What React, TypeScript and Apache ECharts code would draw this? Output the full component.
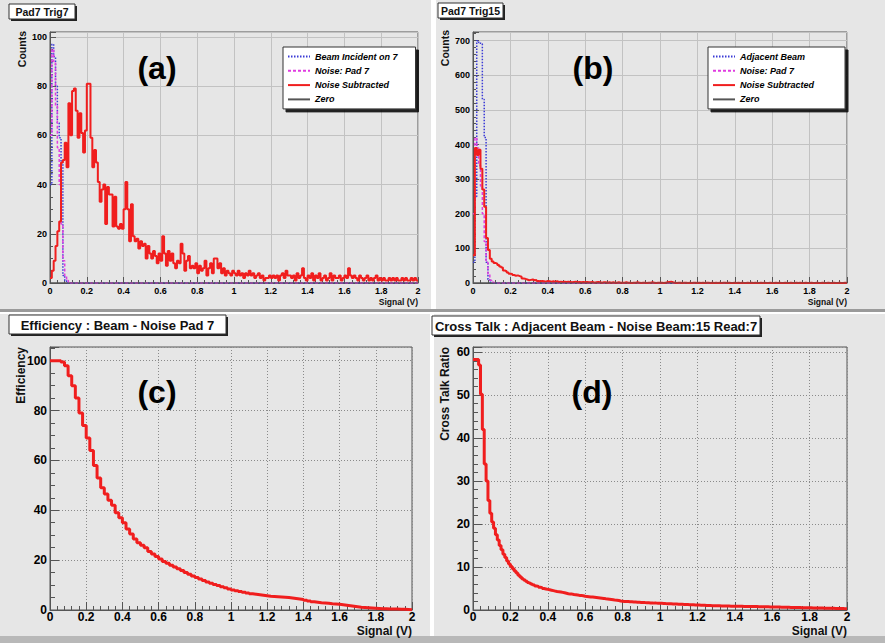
import React, { useEffect, useRef } from "react";
import * as echarts from "echarts";

const FONT = "'Liberation Sans', Arial, Helvetica, sans-serif";

// ---------- text ----------
const panelTitles = [
  "Pad7 Trig7",
  "Pad7 Trig15",
  "Efficiency : Beam - Noise Pad 7",
  "Cross Talk : Adjacent Beam - Noise Beam:15 Read:7",
];
const panelTags = ["(a)", "(b)", "(c)", "(d)"];
const yTitles = ["Counts", "Counts", "Efficiency", "Cross Talk Ratio"];
const xTitle = "Signal (V)";
const legendA = ["Beam Incident on 7", "Noise: Pad 7", "Noise Subtracted", "Zero"];
const legendB = ["Adjacent Beam", "Noise: Pad 7", "Noise Subtracted", "Zero"];

// ---------- axes ----------
const X_MIN = 0;
const X_MAX = 2;
const X_STEP = 0.2;
const yMax = [102, 725, 105.5, 61.2];
const yStep = [20, 100, 20, 10];

// ---------- bin widths ----------
const BW_FINE = 0.01; // panels (a), (b), (d)
const BW_EFF = 0.02; // panel (c)

// ---------- panel (a): Pad7 Trig7 ----------
const beamA = [40, 97, 92, 80, 65, 59, 49, 3, 1, 0];
const noiseA = [60, 95, 90, 72, 55, 40, 24, 9, 3, 1, 0];
const subA = [
  2, 5, 9, 15, 21, 25, 49, 50, 57, 47,
  73, 60, 78, 79, 70, 59, 69, 61, 53, 62,
  81, 81, 59, 47, 54, 49, 41, 33, 38, 40,
  24, 39, 36, 36, 23, 35, 23, 22, 24, 22,
  30, 41, 30, 17, 32, 19, 17, 18, 14, 17,
  15, 16, 10, 15, 12, 10, 13, 11, 8, 12,
  9, 19, 12, 7, 13, 9, 12, 8, 6, 9,
  8, 16, 12, 5, 9, 11, 6, 7, 6, 8,
  4, 7, 5, 6, 9, 3, 6, 8, 4, 10,
  10, 6, 8, 4, 6, 3, 5, 4, 3, 5,
  4, 3, 5, 3, 4, 2, 4, 3, 5, 3,
  4, 2, 3, 4, 2, 3, 1, 2, 2, 3,
  2, 3, 2, 3, 1, 3, 4, 2, 5, 3,
  3, 2, 3, 1, 4, 2, 3, 6, 2, 1,
  3, 2, 4, 1, 3, 2, 4, 1, 2, 3,
  1, 2, 4, 1, 3, 2, 2, 3, 1, 2,
  3, 2, 6, 3, 2, 3, 2, 1, 3, 2,
  1, 2, 3, 1, 2, 1, 2, 3, 1, 2,
  1, 2, 1, 1, 2, 1, 2, 1, 2, 1,
  1, 2, 1, 2, 1, 1, 2, 1, 2, 1,
];

// ---------- panel (b): Pad7 Trig15 ----------
const beamB = [60, 250, 700, 695, 690, 530, 420, 60, 10, 2, 0];
const noiseB = [200, 420, 390, 340, 280, 200, 120, 60, 25, 8, 2, 0];
const subB = [
  80, 390, 370, 385, 330, 270, 220, 130, 95, 70,
  62, 58, 56, 52, 48, 45, 36, 34, 30, 27,
  26, 23, 21, 22, 20, 18, 13, 12, 10, 8,
  9, 10, 8, 9, 6, 5, 6, 5, 4, 6,
  5, 4, 5, 4, 5, 3, 4, 3, 4, 3,
  4, 3, 2, 3, 4, 2, 3, 2, 3, 2,
  3, 2, 2, 3, 1, 2, 3, 2, 1, 2,
  2, 1, 2, 1, 2, 1, 1, 2, 1, 1,
  1, 2, 1, 1, 0, 1, 1, 2, 1, 0,
  1, 1, 0, 1, 1, 2, 1, 0, 1, 1,
  1, 0, 1, 2, 3, 4, 2, 1, 0, 1,
  1, 0, 1, 1, 0, 1, 0, 1, 1, 0,
  1, 0, 1, 0, 1, 1, 0, 1, 0, 1,
  0, 1, 0, 1, 1, 0, 1, 0, 0, 1,
  0, 1, 0, 1, 0, 0, 1, 0, 1, 0,
  1, 0, 0, 1, 0, 1, 0, 0, 1, 0,
  0, 1, 0, 1, 0, 0, 1, 0, 0, 1,
  0, 0, 1, 0, 1, 0, 0, 1, 0, 0,
  1, 0, 0, 1, 0, 0, 1, 0, 0, 1,
  0, 0, 1, 0, 0, 1, 0, 0, 1, 0,
];

// ---------- panel (c): Efficiency ----------
const efficiency = [
  100, 100, 100, 99.5, 98, 94, 90, 85, 79, 74,
  69, 64, 58, 53, 49, 46.5, 44, 42, 39, 37,
  35, 32.5, 30.5, 28.5, 27, 26, 25, 23.5, 22.5, 21.5,
  20.5, 19.5, 18.8, 18, 17.2, 16.5, 15.8, 15, 14.3, 13.6,
  13, 12.4, 11.8, 11.2, 10.7, 10.2, 9.8, 9.3, 8.9, 8.4,
  8, 7.7, 7.4, 7.1, 6.8, 6.5, 6.3, 6.1, 5.9, 5.7,
  5.5, 5.4, 5.3, 5.2, 5.1, 5.0, 4.8, 4.6, 4.4, 4.2,
  3.9, 3.6, 3.3, 3.1, 2.9, 2.8, 2.7, 2.5, 2.4, 2.3,
  2.1, 1.9, 1.7, 1.5, 1.3, 1.1, 1.0, 0.9, 0.8, 0.7,
  0.6, 0.5, 0.5, 0.4, 0.4, 0.4, 0.3, 0.3, 0.2, 0.1,
];

// ---------- panel (d): Cross Talk ----------
const crossTalk = [
  58.3, 58.3, 58.3, 57.0, 50.2, 42.0, 34.0, 30.0, 25.5, 22.5,
  20.5, 19, 17.5, 16.3, 15, 14, 13, 12.2, 11.4, 10.7,
  10.1, 9.6, 9.1, 8.6, 8.1, 7.7, 7.3, 7.0, 6.7, 6.4,
  6.2, 6.0, 5.8, 5.6, 5.5, 5.3, 5.2, 5.0, 4.9, 4.8,
  4.7, 4.6, 4.5, 4.4, 4.3, 4.25, 4.2, 4.1, 4.0, 3.9,
  3.8, 3.75, 3.7, 3.6, 3.55, 3.5, 3.4, 3.35, 3.3, 3.2,
  3.15, 3.1, 3.05, 3.0, 2.95, 2.9, 2.85, 2.8, 2.75, 2.7,
  2.6, 2.55, 2.5, 2.45, 2.4, 2.3, 2.25, 2.2, 2.1, 2.05,
  2.0, 1.97, 1.95, 1.92, 1.9, 1.87, 1.85, 1.82, 1.8, 1.77,
  1.75, 1.72, 1.7, 1.68, 1.65, 1.63, 1.6, 1.6, 1.58, 1.57,
  1.55, 1.53, 1.5, 1.48, 1.46, 1.44, 1.42, 1.4, 1.38, 1.36,
  1.34, 1.32, 1.3, 1.28, 1.26, 1.24, 1.22, 1.2, 1.18, 1.16,
  1.14, 1.12, 1.1, 1.08, 1.06, 1.04, 1.02, 1.0, 0.99, 0.98,
  0.97, 0.96, 0.95, 0.94, 0.93, 0.92, 0.91, 0.9, 0.89, 0.88,
  0.87, 0.86, 0.86, 0.85, 0.84, 0.83, 0.83, 0.82, 0.81, 0.8,
  0.8, 0.79, 0.78, 0.77, 0.76, 0.75, 0.74, 0.73, 0.72, 0.71,
  0.7, 0.69, 0.68, 0.67, 0.66, 0.65, 0.64, 0.63, 0.62, 0.61,
  0.6, 0.59, 0.58, 0.57, 0.56, 0.55, 0.54, 0.53, 0.52, 0.51,
  0.5, 0.49, 0.48, 0.47, 0.46, 0.45, 0.44, 0.43, 0.42, 0.41,
  0.4, 0.39, 0.38, 0.37, 0.36, 0.35, 0.34, 0.33, 0.32, 0.3,
];

// histogram (low-edge, value) points, closed at X_MAX
function histData(values: number[], bw: number): number[][] {
  const pts = values.map((v, i) => [+(i * bw).toFixed(4), v]);
  const last = values[values.length - 1];
  const endX = +(values.length * bw).toFixed(4);
  pts.push([endX, last]);
  if (endX < X_MAX) pts.push([X_MAX, last]);
  return pts;
}

const RED = "#f01e1e";
const BLUE = "#3b3bd6";
const MAGENTA = "#e03ce0";
const PANEL_BG = "#e6e6e6";

function buildOption(): any {
  const grids = [
    { left: 50, top: 32, width: 368, height: 251 },
    { left: 473, top: 32, width: 374, height: 251 },
    { left: 50, top: 347, width: 362, height: 263 },
    { left: 473, top: 347, width: 374, height: 263 },
  ];
  const top = (i: number) => i < 2;
  const fs = (i: number) => (top(i) ? 9 : 12);
  const minorY = [4, 5, 4, 5];

  const xAxis = grids.map((_, i) => ({
    type: "value",
    gridIndex: i,
    min: X_MIN,
    max: X_MAX,
    interval: X_STEP,
    axisLine: { show: true, lineStyle: { color: "#555", width: 1 } },
    axisTick: { show: true, inside: true, length: top(i) ? 6 : 8, lineStyle: { color: "#555" } },
    minorTick: { show: true, splitNumber: 5, length: top(i) ? 3 : 4, lineStyle: { color: "#555" } },
    splitLine: {
      show: true,
      lineStyle: top(i) ? { color: "#c2c2c2", width: 1, type: "solid" } : { color: "#8a8a8a", width: 1, type: [1, 2] },
    },
    axisLabel: {
      show: true,
      color: "#000",
      fontFamily: FONT,
      fontWeight: "bold",
      fontSize: fs(i),
      margin: top(i) ? 3 : 1,
    },
  }));

  const yAxis = grids.map((_, i) => ({
    type: "value",
    gridIndex: i,
    min: 0,
    max: yMax[i],
    interval: yStep[i],
    axisLine: { show: true, lineStyle: { color: "#555", width: 1 } },
    axisTick: { show: true, inside: true, length: top(i) ? 6 : 9, lineStyle: { color: "#555" } },
    minorTick: { show: true, splitNumber: minorY[i], length: top(i) ? 3 : 5, lineStyle: { color: "#555" } },
    splitLine: {
      show: true,
      lineStyle: top(i) ? { color: "#c2c2c2", width: 1, type: "solid" } : { color: "#8a8a8a", width: 1, type: [1, 2] },
    },
    axisLabel: {
      show: true,
      showMaxLabel: false,
      color: "#000",
      fontFamily: FONT,
      fontWeight: "bold",
      fontSize: fs(i),
      margin: 3,
    },
  }));

  const mk = (name: string, idx: number, data: number[][], color: string, width: number, type: any) => ({
    type: "line",
    name,
    xAxisIndex: idx,
    yAxisIndex: idx,
    data,
    step: "end",
    symbol: "none",
    showSymbol: false,
    silent: true,
    clip: true,
    lineStyle: { color, width, type },
    itemStyle: { color },
  });

  const zeroData = [
    [X_MIN, 0],
    [X_MAX, 0],
  ];

  const series = [
    mk(legendA[0], 0, histData(beamA, BW_FINE), BLUE, 1.5, [1.5, 1.5]),
    mk(legendA[1], 0, histData(noiseA, BW_FINE), MAGENTA, 1.5, [3, 2]),
    mk(legendA[2], 0, histData(subA, BW_FINE), RED, 2, "solid"),
    mk(legendA[3], 0, zeroData, "#555", 1, "solid"),
    mk(legendB[0], 1, histData(beamB, BW_FINE), BLUE, 1.5, [1.5, 1.5]),
    mk(legendB[1], 1, histData(noiseB, BW_FINE), MAGENTA, 1.5, [3, 2]),
    mk(legendB[2], 1, histData(subB, BW_FINE), RED, 2, "solid"),
    mk(legendB[3], 1, zeroData, "#555", 1, "solid"),
    mk("Efficiency", 2, histData(efficiency, BW_EFF), RED, 3, "solid"),
    mk("Cross Talk", 3, histData(crossTalk, BW_FINE), RED, 3, "solid"),
  ];

  const legendCommon = {
    orient: "vertical",
    top: 47,
    itemWidth: 22,
    itemHeight: 10,
    itemGap: 5.3,
    backgroundColor: "#ffffff",
    borderColor: "#333",
    borderWidth: 1,
    shadowColor: "rgba(0,0,0,0.85)",
    shadowBlur: 1,
    shadowOffsetX: 3,
    shadowOffsetY: 3,
    selectedMode: false,
    itemStyle: { opacity: 0, borderWidth: 0 },
    textStyle: { fontFamily: FONT, fontSize: 9, fontStyle: "italic", fontWeight: "bold", color: "#000" },
  };
  const legend = [
    { ...legendCommon, left: 283, padding: [5, 18, 5, 4], data: legendA },
    { ...legendCommon, left: 708, padding: [5, 31, 5, 4], data: legendB },
  ];

  // ----- graphics: panels, title boxes, tags, axis titles -----
  const rect = (x: number, y: number, w: number, h: number, fill: string, z = -10) => ({
    type: "rect",
    z,
    silent: true,
    shape: { x, y, width: w, height: h },
    style: { fill },
  });
  const titleBox = (x: number, y: number, w: number, h: number, text: string, size: number) => ({
    type: "group",
    z: 50,
    silent: true,
    children: [
      { type: "rect", shape: { x: x + 2, y: y + 2, width: w, height: h }, style: { fill: "#222" } },
      { type: "rect", shape: { x, y, width: w, height: h }, style: { fill: "#fff", stroke: "#333", lineWidth: 1 } },
      {
        type: "text",
        x: x + w / 2,
        y: y + h / 2 + 0.5,
        style: {
          text,
          fill: "#111",
          fontFamily: FONT,
          fontWeight: "bold",
          fontSize: size,
          align: "center",
          verticalAlign: "middle",
        },
      },
    ],
  });
  const tag = (x: number, y: number, text: string) => ({
    type: "text",
    z: 50,
    silent: true,
    x,
    y,
    style: {
      text,
      fill: "#000",
      fontFamily: FONT,
      fontWeight: "bold",
      fontSize: 32,
      align: "center",
      verticalAlign: "middle",
    },
  });
  const yTitle = (x: number, y: number, text: string, size: number) => ({
    type: "text",
    z: 50,
    silent: true,
    x,
    y,
    rotation: Math.PI / 2,
    style: {
      text,
      fill: "#111",
      fontFamily: FONT,
      fontWeight: "bold",
      fontSize: size,
      align: "right",
      verticalAlign: "middle",
    },
  });
  const xTitleEl = (x: number, y: number, size: number) => ({
    type: "text",
    z: 50,
    silent: true,
    x,
    y,
    style: {
      text: xTitle,
      fill: "#111",
      fontFamily: FONT,
      fontWeight: "bold",
      fontSize: size,
      align: "right",
      verticalAlign: "middle",
    },
  });

  const graphic = [
    rect(0, 0, 885, 643, "#ffffff", -20),
    rect(0, 0, 431, 309, PANEL_BG),
    rect(436, 0, 449, 309, PANEL_BG),
    rect(0, 309, 885, 3, "#9a9a9a"),
    rect(0, 314, 430, 322, PANEL_BG),
    rect(434, 314, 451, 322, PANEL_BG),
    rect(0, 636, 885, 7, "#b8b8b8"),
    titleBox(9, 4, 66, 15, panelTitles[0], 10.5),
    titleBox(438, 3, 65, 15, panelTitles[1], 10.5),
    titleBox(9, 315, 217, 19, panelTitles[2], 13),
    titleBox(432, 316, 328, 19, panelTitles[3], 13),
    tag(157, 68, panelTags[0]),
    tag(593, 68, panelTags[1]),
    tag(157, 392, panelTags[2]),
    tag(592, 392, panelTags[3]),
    yTitle(22, 31, yTitles[0], 10.5),
    yTitle(445, 30, yTitles[1], 10.5),
    yTitle(21, 347, yTitles[2], 12),
    yTitle(445, 347, yTitles[3], 12),
    xTitleEl(418, 302, 8.5),
    xTitleEl(847, 302, 8.5),
    xTitleEl(412, 631, 12),
    xTitleEl(847, 631, 12),
  ];

  return {
    animation: false,
    backgroundColor: "#ffffff",
    textStyle: { fontFamily: FONT },
    grid: grids.map((g) => ({
      ...g,
      show: true,
      borderColor: "#555",
      borderWidth: 1,
      backgroundColor: "transparent",
      containLabel: false,
      outerBoundsMode: "none",
    })),
    xAxis,
    yAxis,
    legend,
    series,
    graphic,
  };
}

export default function App() {
  const ref = useRef<HTMLDivElement>(null);
  useEffect(() => {
    if (!ref.current) return;
    const chart = echarts.init(ref.current, undefined, { renderer: "svg" });
    chart.setOption(buildOption());
    return () => chart.dispose();
  }, []);
  return (
    <div
      ref={ref}
      style={{ position: "fixed", left: 0, top: 0, width: 885, height: 643 }}
    />
  );
}
